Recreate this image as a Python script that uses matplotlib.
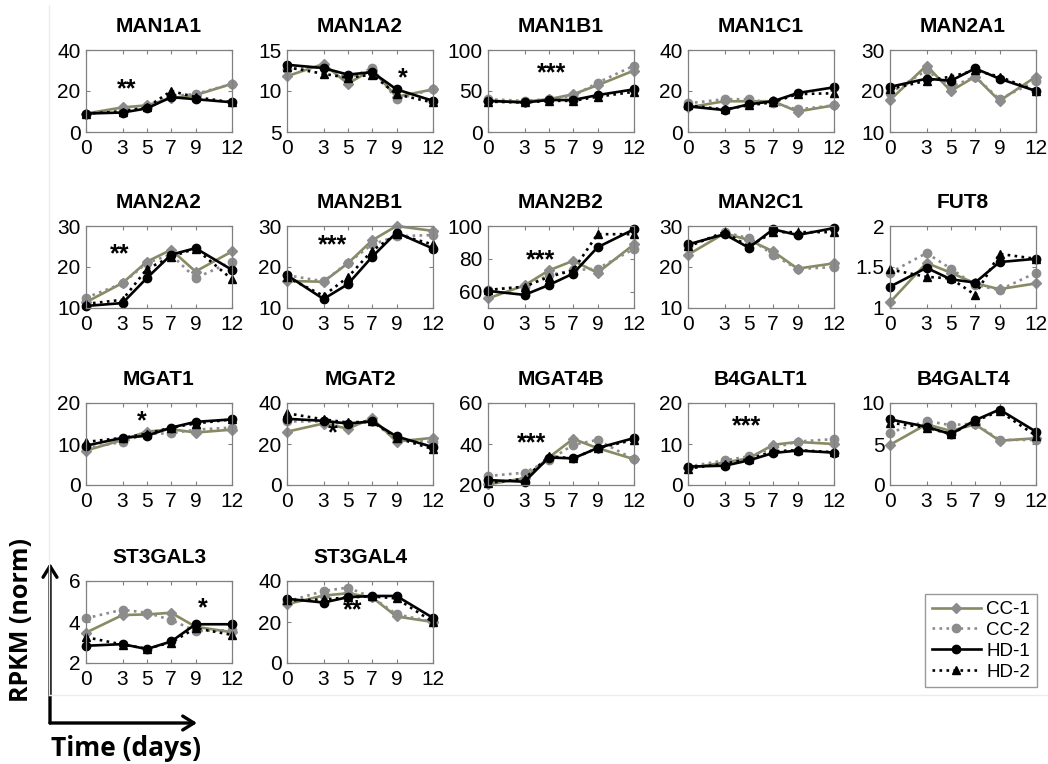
import matplotlib
matplotlib.use('Agg')
import matplotlib.pyplot as plt
from matplotlib.lines import Line2D

# sampling days and gene panels
days = [0, 3, 5, 7, 9, 12]
genes = ['MAN1A1', 'MAN1A2', 'MAN1B1', 'MAN1C1', 'MAN2A1',
         'MAN2A2', 'MAN2B1', 'MAN2B2', 'MAN2C1', 'FUT8',
         'MGAT1', 'MGAT2', 'MGAT4B', 'B4GALT1', 'B4GALT4',
         'ST3GAL3', 'ST3GAL4']
ylims = [(0, 40), (5, 15), (0, 100), (0, 40), (10, 30),
         (10, 30), (10, 30), (50, 100), (10, 30), (1, 2),
         (0, 20), (0, 40), (20, 60), (0, 20), (0, 10),
         (2, 6), (0, 40)]
yticks = [[0, 20, 40], [5, 10, 15], [0, 50, 100], [0, 20, 40], [10, 20, 30],
          [10, 20, 30], [10, 20, 30], [60, 80, 100], [10, 20, 30], [1, 1.5, 2],
          [0, 10, 20], [0, 20, 40], [20, 40, 60], [0, 10, 20], [0, 5, 10],
          [2, 4, 6], [0, 20, 40]]
ytick_labels = [['0', '20', '40'], ['5', '10', '15'], ['0', '50', '100'], ['0', '20', '40'], ['10', '20', '30'],
                ['10', '20', '30'], ['10', '20', '30'], ['60', '80', '100'], ['10', '20', '30'], ['1', '1.5', '2'],
                ['0', '10', '20'], ['0', '20', '40'], ['20', '40', '60'], ['0', '10', '20'], ['0', '5', '10'],
                ['2', '4', '6'], ['0', '20', '40']]

cc1 = [[9, 12, 13, 16.5, 18, 23.5],
       [11.8, 13.3, 10.9, 12.6, 9.3, 10.2],
       [38, 37, 40, 46, 57, 75],
       [12, 15, 15, 15, 10, 13],
       [17.8, 26.2, 20, 23.5, 17.6, 23.5],
       [11.4, 16.1, 21.3, 24.2, 18.9, 23.8],
       [16.6, 16.4, 20.9, 26.5, 30, 28.8],
       [55.8, 63.8, 72.9, 78.8, 71.5, 88.8],
       [23, 28.2, 26.6, 23.8, 19.6, 20.9],
       [1.07, 1.55, 1.43, 1.30, 1.23, 1.30],
       [8.4, 11, 13, 13.6, 12.8, 13.5],
       [26, 30, 27.5, 32.5, 21.2, 23],
       [20.3, 23.3, 33.4, 42.5, 38, 32.6],
       [4.1, 5.5, 6.5, 9.8, 10.5, 10],
       [4.9, 7.4, 6.6, 7.4, 5.4, 5.7],
       [3.48, 4.34, 4.37, 4.45, 3.77, 3.5],
       [28.7, 32.9, 34, 32, 22.7, 20]]
cc2 = [[9, 11, 12.5, 17.5, 18.5, 23.5],
       [12.7, 12.9, 11.5, 12.8, 9.0, 10.2],
       [40, 38, 40, 44, 60, 81],
       [14, 16, 16, 14, 11, 13],
       [19.5, 25, 21, 23.5, 18, 22.4],
       [12.5, 16, 21, 23, 17.3, 21.3],
       [18, 16.5, 21, 25.5, 27.5, 27.8],
       [61, 63, 70, 73, 74, 86],
       [25, 28.5, 27, 23, 19.5, 20],
       [1.43, 1.67, 1.48, 1.28, 1.22, 1.43],
       [9, 10.5, 12.5, 12.6, 13.5, 14],
       [31, 31, 29.5, 31, 22, 21],
       [24.4, 26, 32, 39.6, 42, 32.5],
       [4.5, 6, 7, 9, 10.6, 11.2],
       [6.4, 7.8, 7.3, 7.5, 5.5, 5.5],
       [4.18, 4.6, 4.45, 4.1, 3.56, 3.6],
       [30, 35.1, 36.8, 32, 23.8, 20]]
hd1 = [[9, 9.5, 11.5, 17, 16, 14.5],
       [13.2, 12.8, 12.0, 12.3, 10.2, 8.8],
       [38, 36, 39, 39, 45, 52],
       [12.5, 10.7, 13.5, 15, 19, 21.8],
       [21, 23, 22.5, 25.5, 23, 20],
       [10.5, 11.2, 17.3, 23, 24.6, 19.3],
       [18, 12.2, 15.8, 22.5, 28.4, 24.5],
       [60.4, 58, 64, 71, 87, 98],
       [25.5, 28, 24.7, 29.2, 27.8, 29.5],
       [1.26, 1.49, 1.35, 1.31, 1.56, 1.60],
       [9.6, 11.5, 12, 14, 15.4, 16],
       [32.3, 31.3, 30, 31, 23.7, 18.5],
       [22.4, 21.6, 33.4, 33, 38, 42.9],
       [4.5, 4.7, 6, 7.8, 8.4, 7.9],
       [8.0, 7.1, 6.2, 7.9, 9.2, 6.5],
       [2.84, 2.92, 2.68, 3.05, 3.89, 3.89],
       [31.3, 29.5, 32.1, 32.7, 32.7, 22]]
hd2 = [[9, 10, 12, 20, 17, 14.5],
       [12.9, 12.1, 11.6, 12.0, 9.6, 8.6],
       [37, 36, 38, 38, 43, 49],
       [13, 11, 13, 14.5, 18.5, 18.9],
       [20.5, 22.5, 23.5, 25, 23.5, 20],
       [11, 12, 19.5, 22.5, 24.5, 17],
       [17.5, 13, 17.5, 24, 28, 25.5],
       [61, 63, 69, 73, 95, 95],
       [25, 28.5, 25, 28.5, 28.5, 28.5],
       [1.47, 1.38, 1.36, 1.16, 1.66, 1.60],
       [10.5, 11.5, 12.5, 14, 15, 16],
       [35, 32, 30.5, 31, 23, 17.5],
       [21, 23, 34, 33, 38, 42],
       [4, 5.2, 6.3, 8.2, 8.5, 8],
       [7.6, 7, 6.2, 7.8, 9, 6],
       [3.26, 2.9, 2.7, 3.0, 3.7, 3.37],
       [30.5, 31, 32, 32.5, 31.5, 20]]
series_names = ['CC-1', 'CC-2', 'HD-1', 'HD-2']

stars = ['**', '*', '***', '', '',
         '**', '***', '***', '', '',
         '*', '*', '***', '***', '',
         '*', '**']
star_x = [3.3, 9.5, 5.2, 0, 0, 2.8, 3.7, 4.3, 0, 0, 4.6, 3.8, 3.6, 4.8, 0, 9.6, 5.4]
star_y = [21, 11.5, 72, 0, 0, 23, 25.4, 79, 0, 0, 15.6, 25.3, 40.5, 14.4, 0, 4.66, 25.9]

# look of the four series (MATLAB style)
olive = '#8a8a62'
grey = '#8c8c8c'
styles = [dict(color=olive, ls='-', marker='D', mfc=grey, mec=grey, ms=5),
          dict(color=grey, ls=':', marker='o', mfc=grey, mec=grey, ms=6),
          dict(color='black', ls='-', marker='o', mfc='black', mec='black', ms=6),
          dict(color='black', ls=':', marker='^', mfc='black', mec='black', ms=6)]

W, H = 1048, 764
fig = plt.figure(figsize=(W / 100, H / 100), dpi=100)
plt.rcParams['font.family'] = ['Liberation Sans', 'DejaVu Sans']

col_left = [86, 287, 488, 688, 890]
row_top = [50, 226, 403, 581]
ax_w, ax_h = 146, 82

for i, g in enumerate(genes):
    r, c = divmod(i, 5)
    ax = fig.add_axes([col_left[c] / W, 1 - (row_top[r] + ax_h) / H, ax_w / W, ax_h / H])
    for data, st in zip([cc1, cc2, hd1, hd2], styles):
        ax.plot(days, data[i], lw=1.9, clip_on=False, **st)
    ax.set_xlim(0, 12)
    ax.set_ylim(*ylims[i])
    ax.set_xticks(days)
    ax.set_yticks(yticks[i])
    ax.set_yticklabels(ytick_labels[i])
    ax.tick_params(direction='in', length=3, top=True, right=True, color='#808080',
                   labelsize=15)
    ax.tick_params(axis='x', pad=5)
    ax.tick_params(axis='y', pad=4)
    for sp in ax.spines.values():
        sp.set_color('#808080')
        sp.set_linewidth(0.9)
    ax.set_title(g, fontsize=15, fontweight='bold', pad=13)
    if stars[i]:
        ax.text(star_x[i], star_y[i], stars[i], ha='center', va='center',
                fontsize=18, fontweight='bold')

# legend
handles = [Line2D([], [], lw=1.9, **st) for st in styles]
fig.legend(handles, series_names, loc='upper left',
           bbox_to_anchor=(916 / W, 1 - 585 / H), fontsize=13.5, frameon=True,
           fancybox=False, edgecolor='#808080', handlelength=2.6,
           labelspacing=0.2, borderpad=0.35, handletextpad=0.3)

# faint frame of the panel block
fig.add_artist(Line2D([49 / W, 49 / W], [1 - 5 / H, 1 - 695 / H], color='#ececec', lw=1))
fig.add_artist(Line2D([49 / W, 1], [1 - 695 / H, 1 - 695 / H], color='#ececec', lw=1))

# axis arrows
corner = (50 / W, 1 - 723 / H)
fig.add_artist(matplotlib.patches.FancyArrowPatch(corner, (50 / W, 1 - 563 / H),
               transform=fig.transFigure, arrowstyle='->,head_length=8,head_width=5',
               lw=2.4, color='black', shrinkA=0, shrinkB=0))
fig.add_artist(matplotlib.patches.FancyArrowPatch(corner, (197 / W, 1 - 723 / H),
               transform=fig.transFigure, arrowstyle='->,head_length=8,head_width=5',
               lw=2.4, color='black', shrinkA=0, shrinkB=0))
fig.text(22 / W, 1 - 620 / H, 'RPKM (norm)', rotation=90, ha='center', va='center',
         fontsize=18, fontweight='bold', family=['Open Sans', 'DejaVu Sans'])
fig.text(126 / W, 1 - 748 / H, 'Time (days)', ha='center', va='center',
         fontsize=19, fontweight='bold', family=['Open Sans', 'DejaVu Sans'])

fig.savefig('out.png', dpi=100)
